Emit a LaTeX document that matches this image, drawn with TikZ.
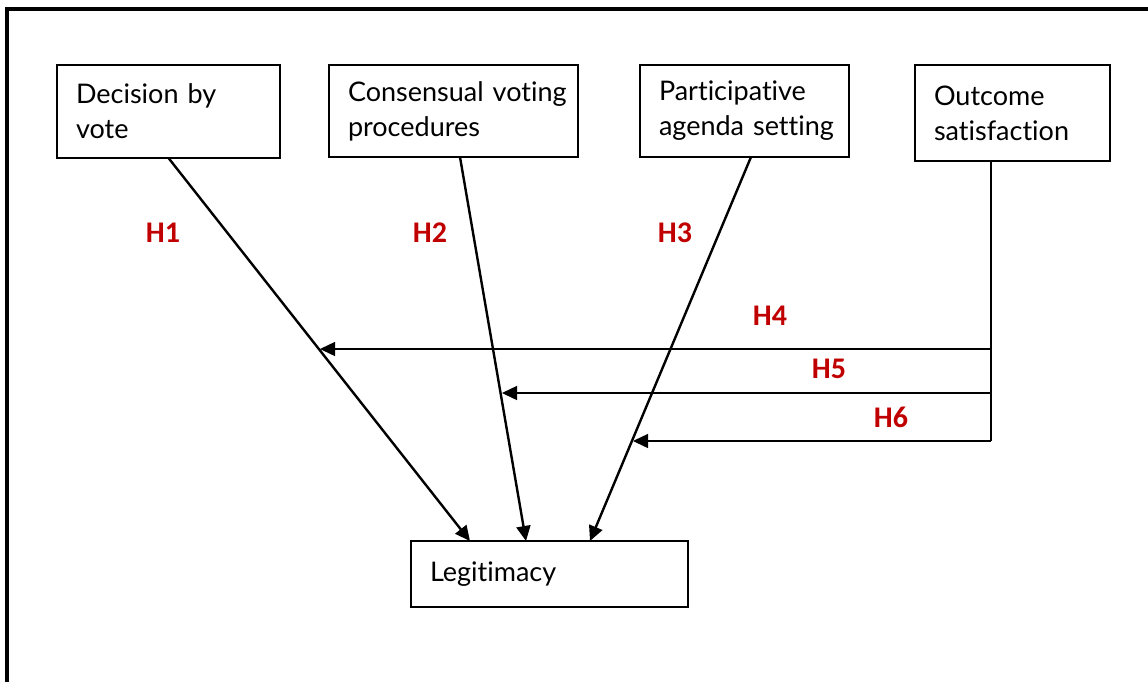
\documentclass[tikz,border=0pt]{standalone}
\usepackage{fontspec}
\setmainfont{Lato}[Ligatures={NoCommon,NoRare,NoDiscretionary}]
\newfontfamily\hypfont{Carlito}
\usetikzlibrary{arrows.meta,calc}
\definecolor{hypred}{HTML}{C00000}

\begin{document}
\begin{tikzpicture}[%
    x=0.5pt, y=-0.5pt,
    every node/.style = {inner sep=0pt, outer sep=0pt},
    varbox/.style = {draw=black, line width=1.4pt, anchor=north west, inner xsep=9.5pt,
                     align=left, font=\fontsize{13.5}{17.5}\selectfont},
    hyp/.style = {text=hypred, font=\hypfont\bfseries\fontsize{15}{17}\selectfont},
    link/.style = {draw=black, line width=1.2pt, -{Triangle[length=7.5pt, width=7pt]}},
    feedback/.style = {draw=black, line width=0.7pt},
    feedlink/.style = {feedback, -{Triangle[length=7.5pt, width=7pt]}}%
  ]
    \useasboundingbox (0,0) rectangle (1148,682);
    \draw[line width=2pt] (7,682) -- (7,9) -- (1148,9);

    % the four predictors
    \node[varbox, text width=92.5pt, minimum height=46.5pt] (vote) at (57,65)
      {\mbox{Decision by}\\vote};
    \node[varbox, text width=105.5pt, minimum height=46pt] (consensus) at (329,65)
      {\mbox{Consensual voting}\\procedures};
    \node[varbox, text width=85.5pt, minimum height=46pt] (agenda) at (640,65)
      {\mbox{Participative}\\\mbox{agenda setting}};
    \node[varbox, text width=78.5pt, minimum height=48pt] (outcome) at (915,65)
      {Outcome\\\mbox{satisfaction}};

    % the outcome
    \node[varbox, text width=119.5pt, minimum height=33pt] (legit) at (411,541)
      {Legitimacy};

    % direct effects
    \coordinate (in1) at ($(legit.north west)+(59,0)$);
    \coordinate (in2) at ($(legit.north west)+(115,0)$);
    \coordinate (in3) at ($(legit.north west)+(179,0)$);
    \draw[link] (vote.south) -- (in1);
    \draw[link] ($(consensus.south)+(6.5,0)$) -- (in2);
    \draw[link] ($(agenda.south)+(6.5,0)$) -- (in3);

    % moderation by outcome satisfaction
    \coordinate (drop) at ($(outcome.south)+(-21.5,0)$);
    \coordinate (m4) at (drop |- 0,349);
    \coordinate (m5) at (drop |- 0,393);
    \coordinate (m6) at (drop |- 0,441);
    \coordinate (on1) at (320,349);
    \coordinate (on2) at (502,393);
    \coordinate (on3) at (633,441);
    \draw[feedback] (drop) -- (m6);
    \draw[feedlink] (m4) -- (on1);
    \draw[feedlink] (m5) -- (on2);
    \draw[feedlink] (m6) -- (on3);

    % hypotheses
    \node[hyp] (h1) at (163,233) {H1};
    \node[hyp] (h2) at (430,233) {H2};
    \node[hyp] (h3) at (675,233) {H3};
    \node[hyp] (h4) at (770,316) {H4};
    \node[hyp] (h5) at (829,369) {H5};
    \node[hyp] (h6) at (891,417) {H6};
  \end{tikzpicture}
\end{document}
